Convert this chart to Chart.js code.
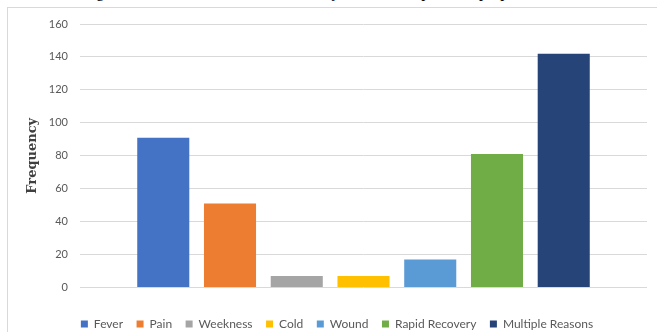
<!DOCTYPE html>
<html>
<head>
<meta charset="utf-8">
<script src="https://cdn.jsdelivr.net/npm/chart.js@4"></script>
<style>
  html, body { margin: 0; padding: 0; background: #fff; }
  body { width: 657px; height: 332px; position: relative; overflow: hidden; }
  #frame { position: absolute; left: 7px; top: 7px; width: 700px; height: 400px; border: 1px solid #d9d9d9; box-sizing: border-box; }
  #cap { position: absolute; left: 83px; top: -16px; font-family: "Liberation Serif", "Times New Roman", serif; font-size: 16px; line-height: 16px; white-space: nowrap; color: #000; }
  #wrap { position: absolute; left: 0; top: 0; width: 657px; height: 340px; }
</style>
</head>
<body>
<div id="cap">Figure 4: Reasons of self-medication by the users as per their purpose</div>
<div id="frame"></div>
<div id="wrap"><canvas id="c" width="657" height="340"></canvas></div>
<script>
const categories = ["Fever", "Pain", "Weekness", "Cold", "Wound", "Rapid Recovery", "Multiple Reasons"];
const values = [91, 51, 7, 7, 17, 81, 142];
const colors = ["#4472C4", "#ED7D31", "#A5A5A5", "#FFC000", "#5B9BD5", "#70AD47", "#264478"];
const yTicks = [0, 20, 40, 60, 80, 100, 120, 140, 160];
const yTitle = "Frequency";

const datasets = categories.map((name, i) => ({
  label: name,
  data: [values[i]],
  backgroundColor: colors[i],
  borderWidth: 0,
  categoryPercentage: 0.824,
  barPercentage: 0.78
}));

new Chart(document.getElementById("c"), {
  type: "bar",
  data: { labels: [""], datasets },
  options: {
    responsive: false,
    animation: false,
    events: [],
    layout: { padding: { left: 27, right: 10, top: 24, bottom: 0 } },
    scales: {
      x: {
        grid: { display: false },
        border: { display: false },
        ticks: { display: false },
        afterFit(scale) { scale.height = 17; }
      },
      y: {
        min: 0, max: 160,
        afterBuildTicks(scale) { scale.ticks = yTicks.map(v => ({ value: v })); },
        grid: { color: "#d9d9d9", lineWidth: 1, drawTicks: false },
        border: { display: false },
        ticks: { color: "#595959", font: { family: "Lato", size: 11 }, padding: 12 },
        title: {
          display: true, text: yTitle, color: "#404040",
          font: { family: "DejaVu Serif", size: 13, weight: "bold" },
          padding: { top: -2, bottom: 0 }
        },
        afterFit(scale) { scale.width = 53; }
      }
    },
    plugins: {
      legend: {
        position: "bottom",
        labels: {
          boxWidth: 7, boxHeight: 7, padding: 13.5,
          color: "#595959",
          font: { family: "Lato", size: 12 }
        }
      },
      tooltip: { enabled: false }
    }
  }
});
</script>
</body>
</html>
